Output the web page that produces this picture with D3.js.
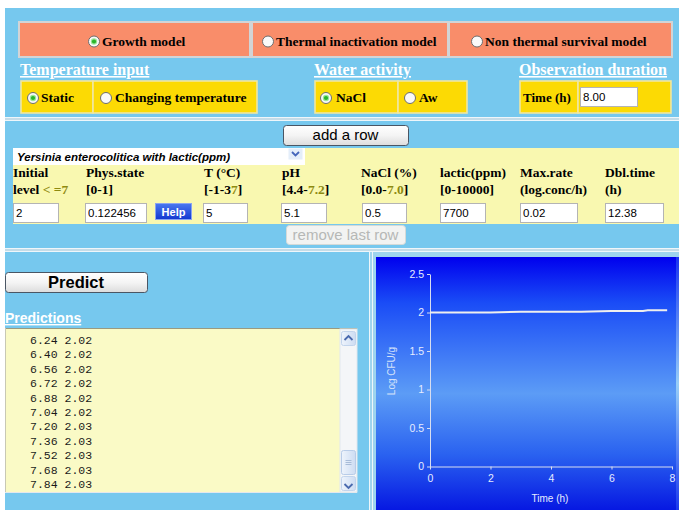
<!DOCTYPE html>
<html><head><meta charset="utf-8">
<script src="https://cdn.jsdelivr.net/npm/d3@7"></script>
<style>body{margin:0;background:#fff;overflow:hidden}svg{display:block}</style>
</head><body>
<script>
// ---------- data ----------
const modelOptions = ["Growth model", "Thermal inactivation model", "Non thermal survival model"];
const temperatureOptions = ["Static", "Changing temperature"];
const waterOptions = ["NaCl", "Aw"];
const sectionTitles = ["Temperature input", "Water activity", "Observation duration"];
const observationLabel = "Time (h)";
const observationTime = "8.00";
const organism = "Yersinia enterocolitica with lactic(ppm)";
const headerLine1 = ["Initial", "Phys.state", "T (°C)", "pH", "NaCl (%)", "lactic(ppm)", "Max.rate", "Dbl.time"];
const headerLine2 = ["level < =7", "[0-1]", "[-1-37]", "[4.4-7.2]", "[0.0-7.0]", "[0-10000]", "(log.conc/h)", "(h)"];
const inputValues = ["2", "0.122456", "5", "5.1", "0.5", "7700", "0.02", "12.38"];
const predictionTimes = ["6.24", "6.40", "6.56", "6.72", "6.88", "7.04", "7.20", "7.36", "7.52", "7.68", "7.84"];
const predictionValues = ["2.02", "2.02", "2.02", "2.02", "2.02", "2.02", "2.03", "2.03", "2.03", "2.03", "2.03"];
const curveTimes = [0, 1, 2, 3, 4, 5, 6, 6.24, 6.40, 6.56, 6.72, 6.88, 7.04, 7.20, 7.36, 7.52, 7.68, 7.84];
const curveValues = [2.00, 2.00, 2.00, 2.01, 2.01, 2.01, 2.02, 2.02, 2.02, 2.02, 2.02, 2.02, 2.02, 2.03, 2.03, 2.03, 2.03, 2.03];
const yTicks = [0, 0.5, 1, 1.5, 2, 2.5];
const xTicks = [0, 2, 4, 6, 8];
const yAxisTitle = "Log CFU/g";
const xAxisTitle = "Time (h)";

// ---------- layout ----------
const W = 679, H = 510;
const SERIF = "'Liberation Serif','Times New Roman',serif";
const SANS = "'Liberation Sans',Arial,sans-serif";
const MONO = "'Liberation Mono','Courier New',monospace";
const svg = d3.select("body").append("svg").attr("width", W).attr("height", H);
const defs = svg.append("defs");

function lg(id, stops, vertical = true) {
  const g = defs.append("linearGradient").attr("id", id)
    .attr("x1", 0).attr("y1", 0).attr("x2", vertical ? 0 : 1).attr("y2", vertical ? 1 : 0);
  stops.forEach(s => g.append("stop").attr("offset", s[0]).attr("stop-color", s[1]));
}
lg("btn", [[0, "#ffffff"], [0.5, "#f4f4f4"], [1, "#dcdcdc"]]);
lg("chartBg", [[0, "#0000ee"], [0.18, "#1a4cf6"], [0.54, "#5c9cf6"], [0.78, "#2a62f0"], [1, "#0618e2"]]);
lg("edge", [[0, "#2040f0"], [0.5, "#a8dcf8"], [1, "#2040f0"]]);
lg("sbBtn", [[0, "#eef4fc"], [1, "#cddcf2"]], false);
lg("helpBtn", [[0, "#4a78f0"], [1, "#1238d0"]]);

// background
svg.append("rect").attr("width", W).attr("height", H).attr("fill", "#ffffff");
svg.append("rect").attr("x", 5).attr("y", 8).attr("width", W - 5).attr("height", H - 8).attr("fill", "#76c8ee");

function radio(g, cx, cy, checked) {
  g.append("circle").attr("cx", cx).attr("cy", cy).attr("r", 5.5).attr("fill", "#fafafa").attr("stroke", "#6e6e6e").attr("stroke-width", 1);
  if (checked) {
    g.append("circle").attr("cx", cx).attr("cy", cy).attr("r", 3.2).attr("fill", "#9be89b");
    g.append("circle").attr("cx", cx).attr("cy", cy).attr("r", 2.1).attr("fill", "#2bb52b");
  }
}
function label(g, x, y, txt, size, opts = {}) {
  return g.append("text").attr("x", x).attr("y", y).text(txt)
    .attr("font-family", opts.family || SERIF).attr("font-size", size)
    .attr("font-weight", opts.weight || "bold").attr("fill", opts.fill || "#000")
    .attr("text-anchor", opts.anchor || "start")
    .attr("font-style", opts.style || "normal");
}
function inputBox(g, x, y, w, h, val) {
  g.append("rect").attr("x", x + 0.5).attr("y", y + 0.5).attr("width", w).attr("height", h)
    .attr("fill", "#fff").attr("stroke", "#b4b4b4");
  label(g, x + 3, y + h - 5, val, 11.5, { family: SANS, weight: "normal" });
}
function button(g, x, y, w, h, txt, size, opts = {}) {
  g.append("rect").attr("x", x + 0.5).attr("y", y + 0.5).attr("width", w).attr("height", h).attr("rx", 3)
    .attr("fill", opts.disabled ? "#f2f3f2" : "url(#btn)").attr("stroke", opts.disabled ? "#d4dad8" : "#4a5664");
  label(g, x + w / 2, y + h / 2 + size * 0.36, txt, size, { family: SANS, weight: opts.weight || "normal", anchor: "middle", fill: opts.disabled ? "#b6b8b6" : "#000" });
}
function sep(yy) {
  svg.append("rect").attr("x", 5).attr("y", yy).attr("width", W - 5).attr("height", 4).attr("fill", "#c4dce8");
  svg.append("line").attr("x1", 5).attr("x2", W).attr("y1", yy + 0.5).attr("y2", yy + 0.5).attr("stroke", "#eef6fa");
  svg.append("line").attr("x1", 5).attr("x2", W).attr("y1", yy + 3.5).attr("y2", yy + 3.5).attr("stroke", "#eef6fa");
}

// ---------- model row ----------
const topG = svg.append("g");
const modelCells = [[20, 229], [253, 194], [450, 221]];
const modelRadioX = [94, 268, 477];
modelOptions.forEach((m, i) => {
  const [cx, w] = modelCells[i];
  topG.append("rect").attr("x", cx - 1).attr("y", 22).attr("width", w + 2).attr("height", 35)
    .attr("fill", "#f98d6a").attr("stroke", "#d2d4d6").attr("stroke-width", 2);
  radio(topG, modelRadioX[i], 41.5, i === 0);
  label(topG, modelRadioX[i] + 8, 46, m, 13.5);
});

// section titles
const titleX = [20, 314, 519];
sectionTitles.forEach((t, i) => {
  label(topG, titleX[i], 75, t, 16, { fill: "#ffffff" }).attr("text-decoration", "underline");
});

function yellowCell(cx, w) {
  topG.append("rect").attr("x", cx).attr("y", 81).attr("width", w).attr("height", 32)
    .attr("fill", "#fcda04").attr("stroke", "#efe6a2").attr("stroke-width", 1.6);
}
// temperature
yellowCell(21, 72); yellowCell(93, 164);
radio(topG, 33, 98, true); label(topG, 41, 102, temperatureOptions[0], 13.5);
radio(topG, 106, 98, false); label(topG, 115, 102, temperatureOptions[1], 13.5);
// water
yellowCell(315, 83); yellowCell(398, 69);
radio(topG, 326, 98, true); label(topG, 336, 102, waterOptions[0], 13.5);
radio(topG, 410, 98, false); label(topG, 419, 102, waterOptions[1], 13.5);
// observation
yellowCell(520, 58); yellowCell(578, 93);
label(topG, 523, 102, observationLabel, 13);
inputBox(topG, 580, 87, 57, 19, observationTime);

sep(117);

// ---------- parameter row ----------
const mid = svg.append("g");
button(mid, 283, 125, 125, 20, "add a row", 15);
mid.append("rect").attr("x", 13).attr("y", 148).attr("width", W - 13).attr("height", 76).attr("fill", "#f9f8b0");
mid.append("rect").attr("x", 13).attr("y", 148).attr("width", 292).attr("height", 17).attr("fill", "#ffffff");
mid.append("rect").attr("x", 288.5).attr("y", 148.5).attr("width", 14).attr("height", 11).attr("fill", "#e4eefa");
mid.append("path").attr("d", "M292,152 L295.5,155.5 L299,152").attr("fill", "none").attr("stroke", "#4466bb").attr("stroke-width", 1.8);
label(mid, 17, 161, organism, 11.5, { family: SANS, style: "italic" });

const colX = [13, 86, 204, 282, 361, 440, 520, 605];
const boxes = [[13, 45], [85, 61], [203, 44], [281, 45], [362, 44], [440, 45], [520, 57], [605, 58]];
headerLine1.forEach((h, i) => label(mid, colX[i], 177, h, 13.5));
headerLine2.forEach((h, i) => {
  const t = mid.append("text").attr("x", colX[i]).attr("y", 194)
    .attr("font-family", SERIF).attr("font-size", 13.5).attr("font-weight", "bold");
  h.split(/(< =7|7\.\d|7)/).filter(s => s.length).forEach(part => {
    t.append("tspan").text(part).attr("fill", /^(< =7|7\.\d|7)$/.test(part) ? "#8e8a10" : "#000");
  });
});
inputValues.forEach((v, i) => inputBox(mid, boxes[i][0], 203, boxes[i][1], 19, v));
// help button
mid.append("rect").attr("x", 155.5).attr("y", 203.5).attr("width", 36).attr("height", 16).attr("fill", "url(#helpBtn)").attr("stroke", "#8aa4f0");
label(mid, 173.5, 215.5, "Help", 11, { family: SANS, fill: "#fff", anchor: "middle" });

button(mid, 286, 225, 119, 19, "remove last row", 15, { disabled: true });

sep(248);

// ---------- predictions ----------
const low = svg.append("g");
button(low, 5, 272, 142, 20, "Predict", 16.5, { weight: "bold" });
label(low, 5, 323, "Predictions", 14, { family: SANS, fill: "#ffffff" }).attr("text-decoration", "underline");

low.append("rect").attr("x", 5).attr("y", 328).attr("width", 352).attr("height", 165).attr("fill", "#fafac6");
low.append("line").attr("x1", 5).attr("x2", 357).attr("y1", 328.5).attr("y2", 328.5).attr("stroke", "#9a9a80");
low.append("line").attr("x1", 5.5).attr("x2", 5.5).attr("y1", 328).attr("y2", 493).attr("stroke", "#c8c8b4");
low.append("line").attr("x1", 5).attr("x2", 357).attr("y1", 492.5).attr("y2", 492.5).attr("stroke", "#e4e8ec");
// scrollbar
low.append("rect").attr("x", 340).attr("y", 329).attr("width", 17).attr("height", 163).attr("fill", "#f4f6f8").attr("stroke", "#e2e8ee");
[[331, "M344.5,340 L348.5,336 L352.5,340"], [476, "M344.5,484 L348.5,488 L352.5,484"]].forEach(([yy, d]) => {
  low.append("rect").attr("x", 341.5).attr("y", yy + 0.5).attr("width", 14).attr("height", 14).attr("rx", 2)
    .attr("fill", "url(#sbBtn)").attr("stroke", "#c2d4ec");
  low.append("path").attr("d", d).attr("fill", "none").attr("stroke", "#4a6aae").attr("stroke-width", 1.8);
});
low.append("rect").attr("x", 341.5).attr("y", 450.5).attr("width", 14).attr("height", 24).attr("rx", 2)
  .attr("fill", "url(#sbBtn)").attr("stroke", "#b8cce8");
[460, 462, 464].forEach(yy => low.append("line").attr("x1", 345.5).attr("x2", 351.5).attr("y1", yy + 0.5).attr("y2", yy + 0.5).attr("stroke", "#a8bcd8"));

predictionTimes.forEach((t, i) => {
  low.append("text").attr("x", 30).attr("y", 344 + i * 14.4).text(t + " " + predictionValues[i])
    .attr("font-family", MONO).attr("font-size", 11.5).attr("fill", "#1a1a1a").attr("xml:space", "preserve");
});

// ---------- chart panel ----------
const ch = svg.append("g");
ch.append("rect").attr("x", 369).attr("y", 252).attr("width", W - 369).attr("height", H - 252).attr("fill", "#9ed4ee");
ch.append("line").attr("x1", 369.5).attr("x2", 369.5).attr("y1", 252).attr("y2", H).attr("stroke", "#eef6fa");
ch.append("line").attr("x1", 372.5).attr("x2", 372.5).attr("y1", 252).attr("y2", H).attr("stroke", "#eef6fa");
ch.append("rect").attr("x", 376).attr("y", 257).attr("width", W - 376).attr("height", H - 257).attr("fill", "url(#chartBg)");
ch.append("rect").attr("x", 676).attr("y", 257).attr("width", 3).attr("height", H - 257).attr("fill", "url(#edge)").attr("opacity", 0.8);

const x = d3.scaleLinear().domain([0, 8]).range([430, 672]);
const y = d3.scaleLinear().domain([0, 2.5]).range([466.5, 274]);
const axisColor = "#d8def0";

const gy = ch.append("g").attr("transform", "translate(430,0)")
  .call(d3.axisLeft(y).tickValues(yTicks).tickSize(3).tickSizeOuter(0).tickPadding(3).tickFormat(d => String(d)));
const gx = ch.append("g").attr("transform", "translate(0,466.5)")
  .call(d3.axisBottom(x).tickValues(xTicks).tickSize(3).tickSizeOuter(0).tickPadding(5).tickFormat(d => String(d)));
[gx, gy].forEach(g => {
  g.selectAll("path,line").attr("stroke", axisColor);
  g.selectAll("text").attr("fill", "#e6ecff").attr("font-family", SANS).attr("font-size", 10.5);
});

ch.append("path").datum(curveTimes.map((t, i) => [t, curveValues[i]]))
  .attr("d", d3.line().x(d => x(d[0])).y(d => y(d[1])))
  .attr("fill", "none").attr("stroke", "#eeeeee").attr("stroke-width", 2);

ch.append("text").attr("transform", "translate(395,371) rotate(-90)").attr("text-anchor", "middle")
  .text(yAxisTitle).attr("font-family", SANS).attr("font-size", 10).attr("fill", "#d4e2fa");
ch.append("text").attr("x", 550).attr("y", 502).attr("text-anchor", "middle")
  .text(xAxisTitle).attr("font-family", SANS).attr("font-size", 10).attr("fill", "#e6ecff");
</script>
</body></html>
